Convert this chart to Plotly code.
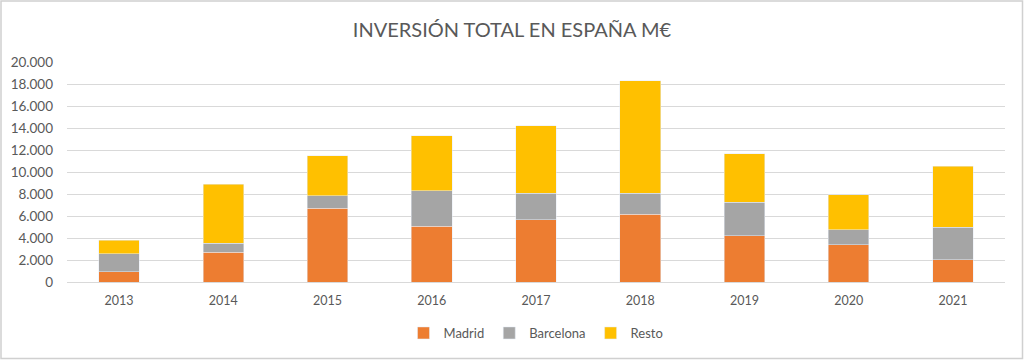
import plotly.graph_objects as go

years = ["2013", "2014", "2015", "2016", "2017", "2018", "2019", "2020", "2021"]
madrid = [940, 2700, 6700, 5060, 5660, 6150, 4210, 3390, 2030]
barcelona = [1630, 840, 1150, 3240, 2430, 1940, 3030, 1340, 2970]
resto = [1210, 5330, 3630, 5000, 6120, 10210, 4420, 3180, 5510]
y_ticks = [0, 2000, 4000, 6000, 8000, 10000, 12000, 14000, 16000, 18000, 20000]

FONT = "Lato"
TXT = "#595959"

fig = go.Figure()
fig.add_bar(x=years, y=madrid, name="Madrid", marker_color="#ED7D31")
fig.add_bar(x=years, y=barcelona, name="Barcelona", marker_color="#A5A5A5")
fig.add_bar(x=years, y=resto, name="Resto", marker_color="#FFC000")

W, H = 1024, 360
ml, mr, mt, mb = 67, 19, 62, 78
pw, ph = W - ml - mr, H - mt - mb

fig.update_layout(
    width=W, height=H,
    barmode="stack", bargap=0.61,
    separators=",.",
    paper_bgcolor="white", plot_bgcolor="white",
    margin=dict(l=ml, r=mr, t=mt, b=mb, autoexpand=False),
    font=dict(family=FONT, color=TXT, size=13),
    title=dict(text="INVERSIÓN TOTAL EN ESPAÑA M€", x=0.5, xanchor="center",
               y=1 - 30 / H, yanchor="middle",
               font=dict(family=FONT, size=20, color=TXT)),
    legend=dict(orientation="h", x=0.5, xanchor="center", y=-(333 - 282) / ph, yanchor="middle",
                itemwidth=30, font=dict(family=FONT, size=13, color=TXT), traceorder="normal"),
    xaxis=dict(showgrid=False, showline=False, ticks="", automargin=False,
               ticklabelstandoff=9, tickfont=dict(size=12.5, color=TXT)),
    yaxis=dict(range=[0, 20000], tickvals=y_ticks, tickformat=",d", automargin=False,
               showgrid=True, gridcolor="#D9D9D9", gridwidth=1,
               zeroline=True, zerolinecolor="#D9D9D9", zerolinewidth=1,
               ticks="", ticklabelstandoff=13, tickfont=dict(size=13.5, color=TXT)),
    shapes=[dict(type="rect", xref="paper", yref="paper",
                 x0=(-ml + 1) / pw, x1=1 + (mr - 1.5) / pw,
                 y0=-(mb - 1.5) / ph, y1=1 + (mt - 1) / ph,
                 line=dict(color="#D0D0D0", width=1.5), layer="below")],
)

fig.write_html("out.html", config={"displayModeBar": False},
               post_script="document.body.style.margin='0';document.body.style.overflow='hidden';")
